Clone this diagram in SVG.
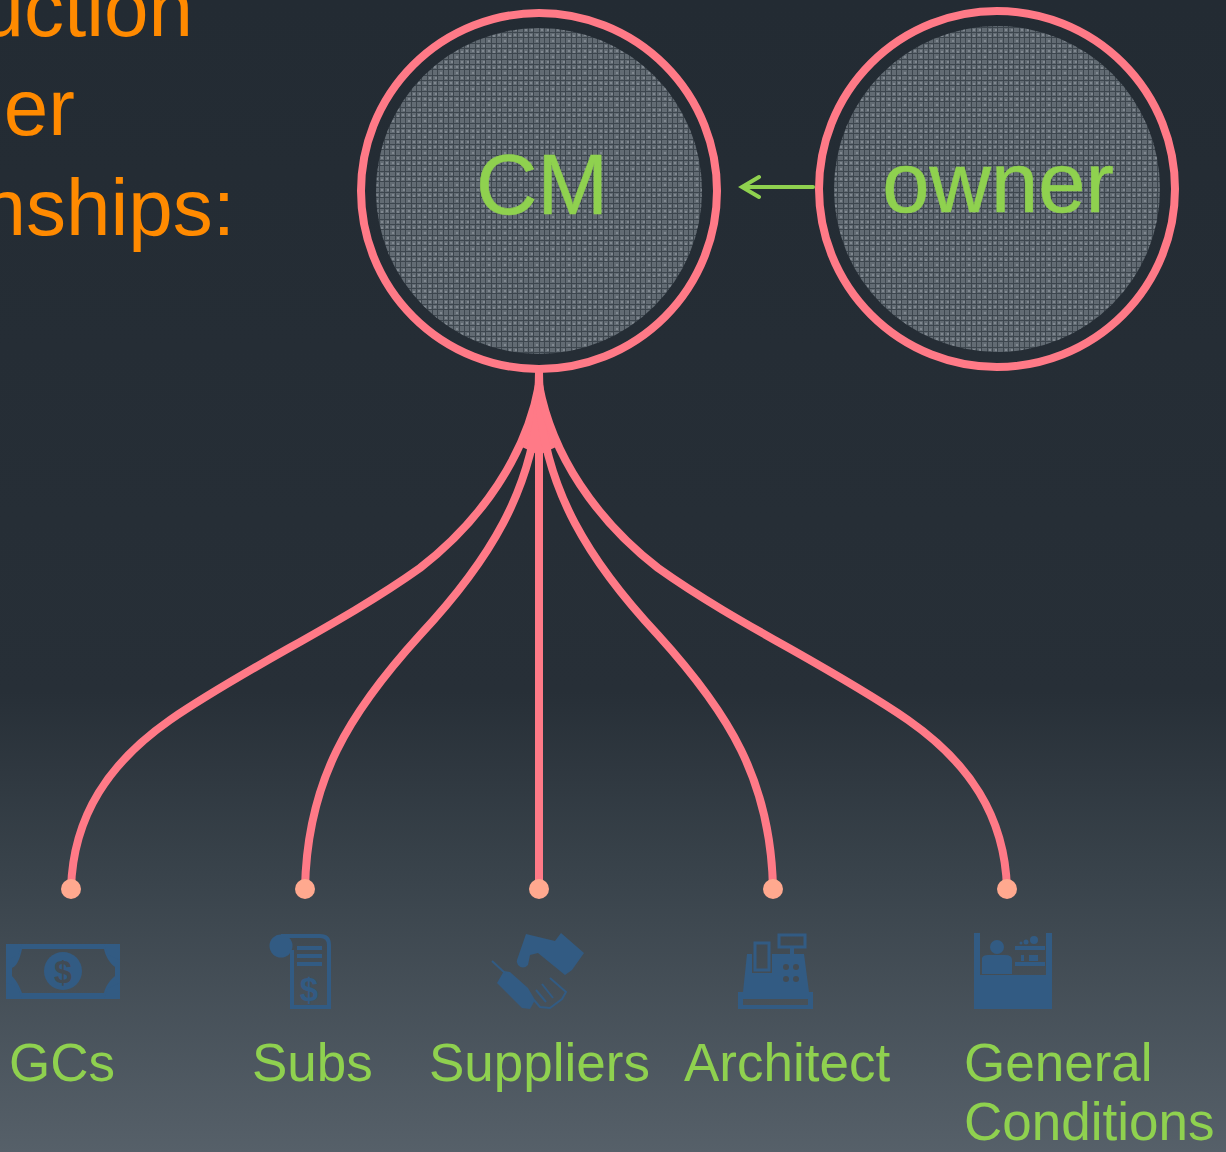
<svg xmlns="http://www.w3.org/2000/svg" width="1226" height="1152" viewBox="0 0 1226 1152">
<style>
text{font-family:"Liberation Sans",Arial,sans-serif}
.o{fill:#ff8a00;font-size:80px;text-anchor:end}
.big{fill:#8fd14f;font-size:85px;text-anchor:middle;stroke:#8fd14f;stroke-width:.6}
.l{fill:#8fd14f;font-size:53px}
.ring{fill:none;stroke:#ff7a87;stroke-width:8}
.c{fill:none;stroke:#ff7a87;stroke-width:8}
.d{fill:#ffa98f}
.i{fill:#325b83}
.ln{fill:none;stroke:#325b83}
</style>
<defs>
<linearGradient id="bg" x1="0" y1="0" x2="0" y2="1"><stop offset="0" stop-color="#232b33"/><stop offset=".6" stop-color="#272f37"/><stop offset=".75" stop-color="#38424a"/><stop offset="1" stop-color="#566069"/></linearGradient>
<pattern id="mesh" width="16" height="16" patternUnits="userSpaceOnUse"><rect width="16" height="16" fill="#626b73"/><path d="M0 .5H16M0 5.500H16M0 11.500H16M.5 0V16M5.500 0V16M11.500 0V16" stroke="#3d464e" stroke-width="1"/><path d="M2 2h2v2h-2zM8 8h2v2h-2zM13 3h2v2h-2zM3 13h2v2h-2zM8 2h2v2h-2zM13 13h2v2h-2z" fill="#808890"/></pattern>
</defs>
<rect id="background" width="1226" height="1152" fill="url(#bg)"/>
<g id="heading"><text class="o" x="193" y="36">uction</text><text class="o" x="75" y="135">er</text><text class="o" x="235" y="235">nships:</text></g>
<g id="connectors">
<path d="M535 372H543C543 400 548 425 556 447L539 455 522 447C530 425 535 400 535 372z" fill="#ff7a87"/>
<path class="c" d="M539 385C526 455 482 520 420 568C340 625 250 665 170 720C110 762 73 815 71 889"/>
<path class="c" d="M539 400C532 490 490 560 420 635C350 712 307 780 305 889"/>
<path class="c" d="M539 400V889"/>
<path class="c" d="M539 400C546 490 588 560 658 635C728 712 771 780 773 889"/>
<path class="c" d="M539 385C552 455 596 520 658 568C738 625 828 665 908 720C968 762 1005 815 1007 889"/>
<path d="M813 187H744M759 177L742 187L759 197" fill="none" stroke="#8fd14f" stroke-width="4" stroke-linecap="round"/>
</g>
<g id="node-cm"><circle cx="539" cy="191" r="178" class="ring"/><circle cx="539" cy="191" r="163" fill="url(#mesh)"/><text class="big" x="542" y="214">CM</text></g>
<g id="node-owner"><circle cx="997" cy="189" r="178" class="ring"/><circle cx="997" cy="189" r="163" fill="url(#mesh)"/><text class="big" x="998" y="212">owner</text></g>
<g id="node-gcs"><circle class="d" cx="71" cy="889" r="10"/>
<path class="i" fill-rule="evenodd" d="M6 944H120V999H6zM12 968C18 966 21 954 22 949H104C105 955 110 964 115 967V976C110 980 105 987 104 993H22C20 987 16 980 12 976z"/><circle class="i" cx="63" cy="971" r="19"/><text x="63" y="983" font-size="32" font-weight="bold" text-anchor="middle" fill="#414b54">$</text><path class="i" d="M6 944H22L18 955 12 958 6 960zM120 944H104L108 955 115 958 120 960zM6 999H22L18 988 12 985 6 983zM120 999H104L108 988 115 985 120 983z"/>
<text class="l" x="9" y="1081">GCs</text></g>
<g id="node-subs"><circle class="d" cx="305" cy="889" r="10"/>
<circle class="i" cx="281" cy="946" r="11.500"/><path class="ln" stroke-width="4" d="M281 936H320Q329 936 329 945V1007H292V950"/><path class="ln" stroke-width="4" d="M297 948H322M297 956H322M297 964H322"/><text x="309" y="1001" font-size="33" font-weight="bold" text-anchor="middle" fill="#325b83">$</text>
<text class="l" x="252" y="1081">Subs</text></g>
<g id="node-suppliers"><circle class="d" cx="539" cy="889" r="10"/>
<path class="i" d="M526 934L555 941 561 933 584 953 572 970 565 975 538 953 530 955 528 965Q523 970 518 965 516 962 517 960z"/><path class="i" d="M497 983L504 971 510 972 528 988 535 1000 530 1009 522 1008z"/><path class="ln" stroke-width="2" d="M492 961L505 973M550 978L566 992 562 999 550 1008 540 1007 534 1000M542 984L553 998M536 990L546 1002"/>
<text class="l" x="429" y="1081">Suppliers</text></g>
<g id="node-architect"><circle class="d" cx="773" cy="889" r="10"/>
<path class="ln" stroke-width="3" d="M779 935H805V947H779zM755 943H769V970H755z"/><path class="i" d="M790 948H794V954H790z"/><path class="i" fill-rule="evenodd" d="M747 954H752V973H772V954H804L809 992H813V1009H738V992H743zM743 999V1005H808V999z"/>
<g fill="#414b54"><circle cx="786" cy="967" r="3"/><circle cx="796" cy="967" r="3"/><circle cx="786" cy="979" r="3"/><circle cx="796" cy="979" r="3"/></g>
<text class="l" x="684" y="1081">Architect</text></g>
<g id="node-general-conditions"><circle class="d" cx="1007" cy="889" r="10"/>
<path class="i" d="M974 933H980V975H1046V933H1052V1009H974z"/><circle class="i" cx="997" cy="947" r="7"/><path class="i" d="M982 974V958Q983 955 988 955H1005Q1012 955 1012 960V974zM1015 946H1045V950H1015zM1015 962H1045V966H1015zM1021 955H1024V961H1021zM1029 955H1038V961H1029z"/><circle class="i" cx="1034" cy="940" r="4"/><circle class="i" cx="1026" cy="942" r="2.500"/><circle class="i" cx="1021" cy="943" r="1.500"/>
<text class="l" x="964" y="1081">General</text><text class="l" x="964" y="1140">Conditions</text></g>
</svg>
